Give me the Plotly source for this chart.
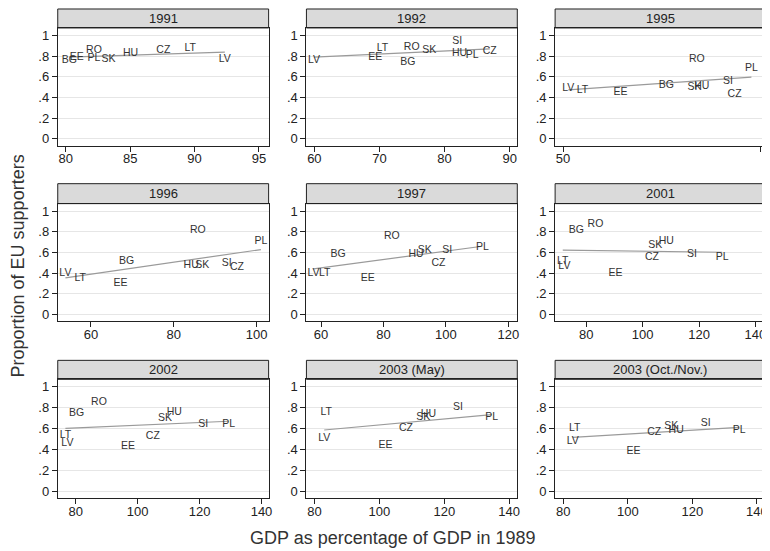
import plotly.graph_objects as go

# ---------------- data ----------------
panel_titles = ["1991", "1992", "1995", "1996", "1997", "2001",
                "2002", "2003 (May)", "2003 (Oct./Nov.)"]

lab_1991 = ["BG", "EE", "RO", "PL", "SK", "HU", "CZ", "LT", "LV"]
gdp_1991 = [80.28, 80.85, 82.19, 82.19, 83.32, 85.03, 87.58, 89.66, 92.35]
sup_1991 = [0.755, 0.79, 0.852, 0.78, 0.765, 0.823, 0.855, 0.871, 0.765]
fitx_1991 = [80.28, 92.35]
fity_1991 = [0.79, 0.839]

lab_1992 = ["LV", "EE", "LT", "RO", "BG", "SK", "SI", "HU", "PL", "CZ"]
gdp_1992 = [59.95, 69.34, 70.46, 74.95, 74.34, 77.65, 81.94, 82.3, 84.23, 86.94]
sup_1992 = [0.755, 0.79, 0.877, 0.887, 0.742, 0.855, 0.942, 0.823, 0.806, 0.845]
fitx_1992 = [59.95, 86.94]
fity_1992 = [0.79, 0.87]

lab_1995 = ["LV", "LT", "EE", "BG", "RO", "SK", "HU", "SI", "CZ", "PL"]
gdp_1995 = [51.34, 54.93, 64.55, 76.17, 83.86, 83.28, 85.12, 91.72, 93.4, 97.66]
sup_1995 = [0.49, 0.474, 0.452, 0.516, 0.765, 0.5, 0.506, 0.561, 0.435, 0.684]
fitx_1995 = [51.34, 97.66]
fity_1995 = [0.474, 0.597]

lab_1996 = ["LV", "LT", "BG", "EE", "RO", "HU", "SK", "SI", "CZ", "PL"]
gdp_1996 = [53.83, 57.43, 68.58, 67.13, 85.81, 84.2, 86.85, 92.79, 95.27, 101.04]
sup_1996 = [0.403, 0.348, 0.51, 0.306, 0.816, 0.474, 0.474, 0.494, 0.458, 0.71]
fitx_1996 = [53.83, 101.04]
fity_1996 = [0.355, 0.629]

lab_1997 = ["LV", "LT", "BG", "EE", "RO", "HU", "SK", "SI", "CZ", "PL"]
gdp_1997 = [57.55, 61.17, 65.43, 75.0, 82.66, 90.43, 93.2, 100.4, 97.6, 111.7]
sup_1997 = [0.403, 0.403, 0.581, 0.355, 0.752, 0.581, 0.619, 0.619, 0.494, 0.652]
fitx_1997 = [57.55, 111.7]
fity_1997 = [0.442, 0.661]

lab_2001 = ["LT", "LV", "BG", "RO", "EE", "SK", "HU", "CZ", "SI", "PL"]
gdp_2001 = [71.68, 72.26, 76.48, 83.28, 90.43, 104.5, 108.4, 103.3, 117.5, 128.2]
sup_2001 = [0.516, 0.468, 0.813, 0.877, 0.403, 0.668, 0.71, 0.558, 0.581, 0.555]
fitx_2001 = [71.68, 128.2]
fity_2001 = [0.623, 0.603]

lab_2002 = ["LT", "LV", "BG", "RO", "EE", "CZ", "SK", "HU", "SI", "PL"]
gdp_2002 = [76.68, 77.32, 80.32, 87.5, 96.93, 104.9, 108.83, 111.83, 121.16, 129.4]
sup_2002 = [0.539, 0.458, 0.748, 0.855, 0.426, 0.526, 0.70, 0.758, 0.639, 0.639]
fitx_2002 = [76.68, 129.4]
fity_2002 = [0.603, 0.671]

lab_2003m = ["LT", "LV", "EE", "CZ", "SK", "HU", "SI", "PL"]
gdp_2003m = [83.58, 82.97, 101.9, 108.2, 113.55, 115.1, 124.2, 134.6]
sup_2003m = [0.758, 0.51, 0.442, 0.606, 0.71, 0.732, 0.80, 0.71]
fitx_2003m = [82.97, 134.6]
fity_2003m = [0.587, 0.735]

lab_2003o = ["LT", "LV", "EE", "CZ", "SK", "HU", "SI", "PL"]
gdp_2003o = [83.58, 82.97, 101.8, 108.2, 113.45, 114.98, 124.1, 134.5]
sup_2003o = [0.606, 0.477, 0.381, 0.565, 0.619, 0.587, 0.652, 0.587]
fitx_2003o = [82.97, 134.5]
fity_2003o = [0.516, 0.613]

x_ticks = [[80, 85, 90, 95], [60, 70, 80, 90], [50, 100], [60, 80, 100],
           [60, 80, 100, 120], [80, 100, 120, 140], [80, 100, 120, 140],
           [80, 100, 120, 140], [80, 100, 120, 140]]
x_ranges = [[79.38, 95.75], [58.78, 91.17], [48.0, 101.1], [51.98, 102.9],
            [55.3, 122.9], [68.98, 143.4], [74.2, 142.3], [77.5, 142.5],
            [77.5, 142.5]]
y_tickvals = [0, 0.2, 0.4, 0.6, 0.8, 1]
y_ticktext = ["0", ".2", ".4", ".6", ".8", "1"]

x_title = "GDP as percentage of GDP in 1989"
y_title = "Proportion of EU supporters"

panels = [
    (lab_1991, gdp_1991, sup_1991, fitx_1991, fity_1991),
    (lab_1992, gdp_1992, sup_1992, fitx_1992, fity_1992),
    (lab_1995, gdp_1995, sup_1995, fitx_1995, fity_1995),
    (lab_1996, gdp_1996, sup_1996, fitx_1996, fity_1996),
    (lab_1997, gdp_1997, sup_1997, fitx_1997, fity_1997),
    (lab_2001, gdp_2001, sup_2001, fitx_2001, fity_2001),
    (lab_2002, gdp_2002, sup_2002, fitx_2002, fity_2002),
    (lab_2003m, gdp_2003m, sup_2003m, fitx_2003m, fity_2003m),
    (lab_2003o, gdp_2003o, sup_2003o, fitx_2003o, fity_2003o),
]

# ---------------- layout geometry (reference pixels) ----------------
OFF = 8                      # page body margin offset
W, H = 770 - OFF, 551 - OFF  # figure size so it fits the viewport
cols_px = [(58, 270), (308, 520), (558, 769)]
rows_px = [(28, 146), (204, 322), (380, 499)]
head_px = [(9, 28), (184, 204), (361, 380)]
y_range = [-0.066, 1.073]


def px(v):
    return (v - OFF) / W


def py(v):
    return 1 - (v - OFF) / H


FONT = "Liberation Sans, Arial, Helvetica, sans-serif"
TXT = "#222222"
AX = "#222222"

fig = go.Figure()
shapes = []
annotations = []
layout_axes = {}

for i, (labs, xs, ys, fx, fy) in enumerate(panels):
    r, c = divmod(i, 3)
    n = i + 1
    xa = "x" if n == 1 else f"x{n}"
    ya = "y" if n == 1 else f"y{n}"
    x0, x1 = cols_px[c]
    y0, y1 = rows_px[r]
    xdom = [px(x0), px(x1)]
    ydom = [py(y1), py(y0)]

    fig.add_trace(go.Scatter(x=fx, y=fy, mode="lines", xaxis=xa, yaxis=ya,
                             line=dict(color="#9a9a9a", width=1.2),
                             showlegend=False, hoverinfo="skip"))
    fig.add_trace(go.Scatter(x=xs, y=ys, text=labs, mode="text", xaxis=xa, yaxis=ya,
                             textposition="middle center",
                             textfont=dict(family=FONT, size=10.5, color="#333333"),
                             showlegend=False))

    kx = "xaxis" if n == 1 else f"xaxis{n}"
    ky = "yaxis" if n == 1 else f"yaxis{n}"
    layout_axes[kx] = dict(domain=xdom, range=x_ranges[i], anchor=ya,
                           tickvals=x_ticks[i], ticks="outside", ticklen=5,
                           tickcolor=AX, tickwidth=1, ticklabelstandoff=-4,
                           showline=True, mirror=True, linecolor=AX, linewidth=1,
                           showgrid=False, zeroline=False,
                           tickfont=dict(family=FONT, size=13, color=TXT))
    layout_axes[ky] = dict(domain=ydom, range=y_range, anchor=xa,
                           tickvals=y_tickvals, ticktext=y_ticktext,
                           ticks="outside", ticklen=5, tickcolor=AX, tickwidth=1,
                           showline=True, mirror=True, linecolor=AX, linewidth=1,
                           showgrid=True, gridcolor="#e6e6e6", gridwidth=1,
                           zeroline=False,
                           tickfont=dict(family=FONT, size=13, color=TXT))

    hy0, hy1 = head_px[r]
    shapes.append(dict(type="rect", xref="paper", yref="paper",
                       x0=px(x0), x1=px(x1), y0=py(hy1), y1=py(hy0),
                       fillcolor="#dadada", line=dict(color=AX, width=1),
                       layer="below"))
    annotations.append(dict(xref="paper", yref="paper",
                            x=px((x0 + x1) / 2), y=py((hy0 + hy1) / 2),
                            text=panel_titles[i], showarrow=False,
                            xanchor="center", yanchor="middle",
                            font=dict(family=FONT, size=13, color=TXT)))

annotations.append(dict(xref="paper", yref="paper", x=px(395), y=py(539),
                        text=x_title, showarrow=False, xanchor="center",
                        yanchor="middle",
                        font=dict(family=FONT, size=18, color="#333333")))
annotations.append(dict(xref="paper", yref="paper", x=px(18), y=py(266),
                        text=y_title, showarrow=False, textangle=-90,
                        xanchor="center", yanchor="middle",
                        font=dict(family=FONT, size=18, color="#333333")))

fig.update_layout(width=W, height=H, autosize=False,
                  margin=dict(l=0, r=0, t=0, b=0),
                  paper_bgcolor="white", plot_bgcolor="white",
                  shapes=shapes, annotations=annotations,
                  font=dict(family=FONT),
                  **layout_axes)

fig.write_html("out.html")
